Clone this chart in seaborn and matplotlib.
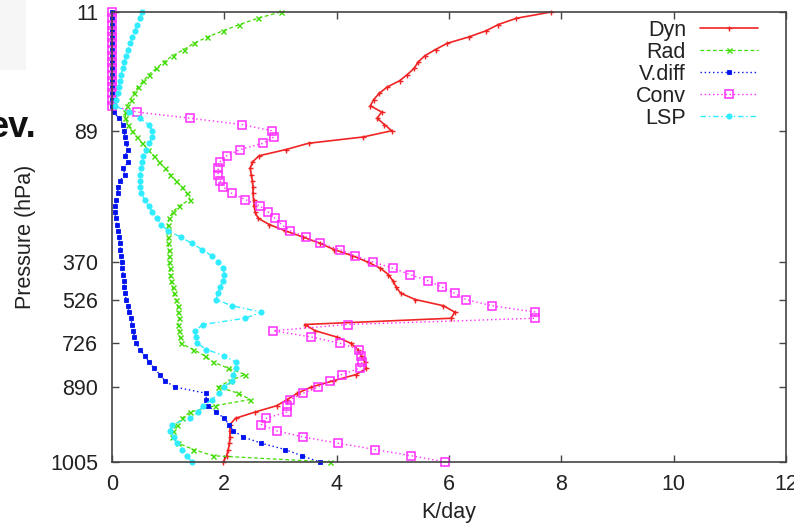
import numpy as np
import pandas as pd
import matplotlib
matplotlib.use("Agg")
import matplotlib.pyplot as plt
from matplotlib.patches import Rectangle
import seaborn as sns

# Heating-rate profiles (K/day) on model levels, top (0) to surface (72)
levels = np.arange(73)

dyn = [7.82, 7.2, 6.88, 6.66, 6.35, 5.97, 5.76, 5.57, 5.45, 5.38,
       5.26, 5.12, 4.9, 4.76, 4.66, 4.6, 4.8, 4.72, 4.85, 4.98,
       4.47, 3.5, 3.1, 2.62, 2.5, 2.46, 2.48, 2.5, 2.51, 2.51,
       2.52, 2.53, 2.55, 2.6, 2.8, 3.08, 3.4, 3.7, 3.95, 4.28,
       4.55, 4.78, 4.92, 5.0, 5.06, 5.14, 5.4, 5.9, 6.1, 6.04,
       3.43, 3.62, 4.0, 4.25, 4.38, 4.44, 4.5, 4.53, 4.35, 3.94,
       3.55, 3.3, 3.12, 2.93, 2.55, 2.2, 2.1, 2.1, 2.1, 2.09,
       2.07, 2.04, 1.98]

rad = [3.0, 2.6, 2.27, 1.98, 1.7, 1.46, 1.28, 1.08, 0.92, 0.79,
       0.66, 0.56, 0.46, 0.39, 0.33, 0.27, 0.24, 0.24, 0.28, 0.35,
       0.44, 0.54, 0.64, 0.74, 0.84, 0.94, 1.04, 1.14, 1.24, 1.33,
       1.39, 1.2, 1.08, 1.02, 1.0, 0.99, 1.0, 1.0, 1.01, 1.02,
       1.02, 1.03, 1.04, 1.05, 1.08, 1.1, 1.14, 1.17, 1.18, 1.2,
       1.18, 1.2, 1.21, 1.22, 1.45, 1.65, 1.8, 2.07, 2.37, 2.1,
       1.89, 2.25, 2.46, 1.83, 1.39, 1.25, 1.15, 1.08, 1.06, 1.18,
       1.45, 1.8, 3.88]

vdiff = [0.0, 0.0, 0.0, 0.0, 0.0, 0.0, 0.0, 0.0, 0.0, 0.0,
         0.0, 0.0, 0.0, 0.0, 0.0, 0.0, 0.03, 0.12, 0.2, 0.22,
         0.23, 0.25, 0.29, 0.23, 0.29, 0.2, 0.23, 0.14, 0.11, 0.1,
         0.08, 0.06, 0.05, 0.07, 0.09, 0.11, 0.13, 0.14, 0.15, 0.16,
         0.17, 0.18, 0.2, 0.21, 0.22, 0.23, 0.25, 0.28, 0.3, 0.33,
         0.36, 0.38, 0.4, 0.43, 0.5, 0.58, 0.66, 0.75, 0.85, 0.94,
         1.12, 1.67, 1.68, 1.71, 1.85, 2.0, 2.08, 2.16, 2.34, 2.66,
         3.08, 3.38, 3.7]

conv = [0.0, 0.0, 0.0, 0.0, 0.0, 0.0, 0.0, 0.0, 0.0, 0.0,
        0.0, 0.0, 0.0, 0.0, 0.0, 0.0, 0.44, 1.39, 2.31, 2.84,
        2.88, 2.69, 2.28, 2.04, 1.92, 1.89, 1.89, 1.92, 1.98, 2.13,
        2.37, 2.63, 2.78, 2.9, 3.02, 3.17, 3.46, 3.7, 4.06, 4.32,
        4.65, 5.0, 5.3, 5.63, 5.87, 6.1, 6.3, 6.76, 7.53, 7.53,
        4.2, 2.87, 3.55, 4.06, 4.4, 4.44, 4.45, 4.41, 4.09, 3.88,
        3.67, 3.4, 3.17, 3.11, 3.11, 2.75, 2.66, 2.93, 3.4, 4.03,
        4.68, 5.33, 5.93]

lsp = [0.53, 0.49, 0.45, 0.41, 0.36, 0.32, 0.28, 0.25, 0.22, 0.19,
       0.16, 0.14, 0.12, 0.1, 0.08, 0.05, 0.3, 0.5, 0.65, 0.72,
       0.72, 0.66, 0.61, 0.56, 0.53, 0.51, 0.5, 0.49, 0.5, 0.52,
       0.58, 0.65, 0.72, 0.8, 0.87, 1.0, 1.22, 1.42, 1.6, 1.78,
       1.89, 1.98, 2.0, 1.97, 1.93, 1.88, 1.86, 2.13, 2.66, 2.37,
       1.62, 1.48, 1.49, 1.52, 1.68, 2.0, 2.2, 2.2, 2.16, 2.13,
       2.0, 1.9, 1.78, 1.62, 1.54, 1.39, 1.06, 1.03, 1.1, 1.15,
       1.25, 1.33, 1.42]

series_names = ["Dyn", "Rad", "V.diff", "Conv", "LSP"]
series_values = [dyn, rad, vdiff, conv, lsp]

pressure_tick_levels = [0, 19, 40, 46, 53, 60, 72]
pressure_tick_labels = ["11", "89", "370", "526", "726", "890", "1005"]
x_ticks = [0, 2, 4, 6, 8, 10, 12]

styles = {
    "Dyn":    dict(color="#f02424", linestyle="-", linewidth=1.2, marker="+",
                   markersize=3.6, markeredgewidth=1.0, markerfacecolor="#f02424",
                   markeredgecolor="#f02424"),
    "Rad":    dict(color="#3fdc00", linestyle=(0, (3, 2)), linewidth=0.9, marker="x",
                   markersize=3.6, markeredgewidth=1.0, markerfacecolor="#3fdc00",
                   markeredgecolor="#3fdc00"),
    "V.diff": dict(color="#0012f0", linestyle=(0, (1, 2)), linewidth=1.0, marker="s",
                   markersize=3.4, markeredgewidth=0.6, markerfacecolor="#0012f0",
                   markeredgecolor="#0012f0"),
    "Conv":   dict(color="#ff2cff", linestyle=(0, (1, 2)), linewidth=1.0, marker="s",
                   markersize=5.2, markeredgewidth=1.1, markerfacecolor="none",
                   markeredgecolor="#ff2cff"),
    "LSP":    dict(color="#30ecff", linestyle=(0, (4, 2, 1, 2)), linewidth=1.0, marker="o",
                   markersize=3.8, markeredgewidth=0.6, markerfacecolor="#30ecff",
                   markeredgecolor="#30ecff"),
}

sns.set_style("ticks")
plt.rcParams["font.family"] = ["Liberation Sans", "DejaVu Sans"]

fig = plt.figure(figsize=(7.94, 5.30), dpi=100)
ax = fig.add_axes([112 / 794, 68 / 530, 674 / 794, 450 / 530])

for name, vals in zip(series_names, series_values):
    df = pd.DataFrame({"K/day": vals, "level": levels})
    sns.lineplot(data=df, x="K/day", y="level", sort=False, estimator=None,
                 orient="y", ax=ax, label=name, clip_on=False, **styles[name])

ax.set_xlim(0, 12)
ax.set_ylim(72, 0)
ax.set_xticks(x_ticks)
ax.set_xticklabels([str(t) for t in x_ticks])
ax.set_yticks(pressure_tick_levels)
ax.set_yticklabels(pressure_tick_labels)

ax.tick_params(axis="both", direction="in", length=5, width=1.0, color="#444444",
               top=True, right=True, labelsize=15.5, labelcolor="#222222")
ax.tick_params(axis="x", pad=8.5)
ax.tick_params(axis="y", pad=10)

for side in ["left", "right", "top", "bottom"]:
    ax.spines[side].set_visible(True)
    ax.spines[side].set_linewidth(1.2)
    ax.spines[side].set_color("#444444")

ax.set_xlabel("K/day", fontsize=15.5, color="#222222", labelpad=5)
ax.set_ylabel("Pressure (hPa)", fontsize=15.5, color="#222222", labelpad=10)

handles, labels = ax.get_legend_handles_labels()
leg = ax.legend(handles, labels, loc="upper right", bbox_to_anchor=(0.9585, 0.983),
                frameon=False, markerfirst=False, fontsize=15.5, handlelength=2.7,
                handletextpad=0.65, labelspacing=0.05, borderaxespad=0, borderpad=0)
for col in leg._legend_handle_box.get_children():
    col.align = "right"
for t in leg.get_texts():
    t.set_color("#222222")

# slide remnants around the plot
fig.patches.append(Rectangle((0, 1 - 70 / 530), 26 / 794, 70 / 530,
                             transform=fig.transFigure, facecolor="#f6f6f6",
                             edgecolor="none", zorder=0))
fig.text(36 / 794, 1 - 137 / 530, "ev.", ha="right", va="baseline",
         fontsize=26, fontweight="bold", color="#111111")

fig.savefig("out.png", dpi=100)
